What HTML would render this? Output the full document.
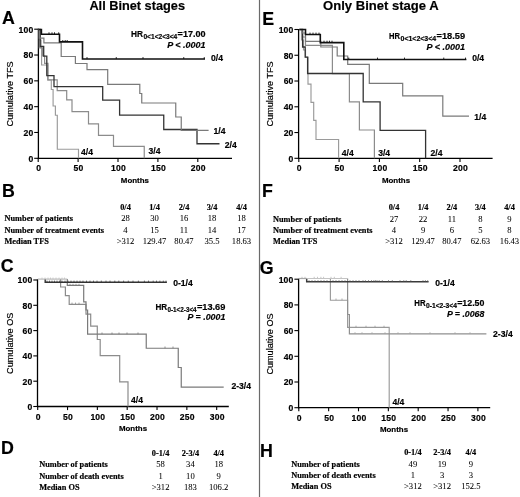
<!DOCTYPE html>
<html><head><meta charset="utf-8"><style>
html,body{margin:0;padding:0;background:#fff;}
svg{display:block;filter:blur(0.3px);}
text{stroke:#000;stroke-width:0.18px;}
text.v{stroke-width:0.05px;}
</style></head><body>
<svg width="520" height="497" viewBox="0 0 520 497">
<rect x="0" y="0" width="520" height="497" fill="#fff"/>
<line x1="259.5" y1="0" x2="259.5" y2="497" stroke="#6a6a6a" stroke-width="1.2"/>
<text x="89.4" y="10.4" font-size="13" font-weight="bold" font-style="normal" text-anchor="start" font-family='"Liberation Sans", sans-serif' fill="#000" textLength="95.6" lengthAdjust="spacingAndGlyphs">All Binet stages</text>
<text x="323.1" y="10.4" font-size="13" font-weight="bold" font-style="normal" text-anchor="start" font-family='"Liberation Sans", sans-serif' fill="#000" textLength="115.6" lengthAdjust="spacingAndGlyphs">Only Binet stage A</text>
<text x="2.1" y="23.6" font-size="17.8" font-weight="bold" font-style="normal" text-anchor="start" font-family='"Liberation Sans", sans-serif' fill="#000" >A</text>
<text x="2.06" y="196.55" font-size="17.8" font-weight="bold" font-style="normal" text-anchor="start" font-family='"Liberation Sans", sans-serif' fill="#000" >B</text>
<text x="0.67" y="272.35" font-size="17.8" font-weight="bold" font-style="normal" text-anchor="start" font-family='"Liberation Sans", sans-serif' fill="#000" >C</text>
<text x="0.91" y="454.2" font-size="17.8" font-weight="bold" font-style="normal" text-anchor="start" font-family='"Liberation Sans", sans-serif' fill="#000" >D</text>
<text x="262.16" y="25.2" font-size="17.8" font-weight="bold" font-style="normal" text-anchor="start" font-family='"Liberation Sans", sans-serif' fill="#000" >E</text>
<text x="261.9" y="197.2" font-size="17.8" font-weight="bold" font-style="normal" text-anchor="start" font-family='"Liberation Sans", sans-serif' fill="#000" >F</text>
<text x="259.8" y="274.05" font-size="17.8" font-weight="bold" font-style="normal" text-anchor="start" font-family='"Liberation Sans", sans-serif' fill="#000" >G</text>
<text x="259.9" y="456.55" font-size="17.8" font-weight="bold" font-style="normal" text-anchor="start" font-family='"Liberation Sans", sans-serif' fill="#000" >H</text>
<line x1="38.4" y1="28.7" x2="38.4" y2="158.9" stroke="#000" stroke-width="1.3"/>
<line x1="37.8" y1="158.3" x2="232" y2="158.3" stroke="#000" stroke-width="1.3"/>
<line x1="34.199999999999996" y1="158.3" x2="38.4" y2="158.3" stroke="#000" stroke-width="1.1"/>
<text x="33.4" y="161.60000000000002" font-size="8.6" font-weight="bold" font-style="normal" text-anchor="end" font-family='"Liberation Sans", sans-serif' fill="#000" letter-spacing="0.2">0</text>
<line x1="34.199999999999996" y1="132.48000000000002" x2="38.4" y2="132.48000000000002" stroke="#000" stroke-width="1.1"/>
<text x="33.4" y="135.78000000000003" font-size="8.6" font-weight="bold" font-style="normal" text-anchor="end" font-family='"Liberation Sans", sans-serif' fill="#000" letter-spacing="0.2">20</text>
<line x1="34.199999999999996" y1="106.66000000000001" x2="38.4" y2="106.66000000000001" stroke="#000" stroke-width="1.1"/>
<text x="33.4" y="109.96000000000001" font-size="8.6" font-weight="bold" font-style="normal" text-anchor="end" font-family='"Liberation Sans", sans-serif' fill="#000" letter-spacing="0.2">40</text>
<line x1="34.199999999999996" y1="80.84" x2="38.4" y2="80.84" stroke="#000" stroke-width="1.1"/>
<text x="33.4" y="84.14" font-size="8.6" font-weight="bold" font-style="normal" text-anchor="end" font-family='"Liberation Sans", sans-serif' fill="#000" letter-spacing="0.2">60</text>
<line x1="34.199999999999996" y1="55.02000000000001" x2="38.4" y2="55.02000000000001" stroke="#000" stroke-width="1.1"/>
<text x="33.4" y="58.32000000000001" font-size="8.6" font-weight="bold" font-style="normal" text-anchor="end" font-family='"Liberation Sans", sans-serif' fill="#000" letter-spacing="0.2">80</text>
<line x1="34.199999999999996" y1="29.200000000000017" x2="38.4" y2="29.200000000000017" stroke="#000" stroke-width="1.1"/>
<text x="33.4" y="32.500000000000014" font-size="8.6" font-weight="bold" font-style="normal" text-anchor="end" font-family='"Liberation Sans", sans-serif' fill="#000" letter-spacing="0.2">100</text>
<line x1="38.2" y1="158.3" x2="38.2" y2="161.9" stroke="#000" stroke-width="1.1"/>
<text x="38.7" y="171.4" font-size="8.6" font-weight="bold" font-style="normal" text-anchor="middle" font-family='"Liberation Sans", sans-serif' fill="#000" letter-spacing="0.2">0</text>
<line x1="78.1" y1="158.3" x2="78.1" y2="161.9" stroke="#000" stroke-width="1.1"/>
<text x="78.6" y="171.4" font-size="8.6" font-weight="bold" font-style="normal" text-anchor="middle" font-family='"Liberation Sans", sans-serif' fill="#000" letter-spacing="0.2">50</text>
<line x1="118.0" y1="158.3" x2="118.0" y2="161.9" stroke="#000" stroke-width="1.1"/>
<text x="118.5" y="171.4" font-size="8.6" font-weight="bold" font-style="normal" text-anchor="middle" font-family='"Liberation Sans", sans-serif' fill="#000" letter-spacing="0.2">100</text>
<line x1="157.89999999999998" y1="158.3" x2="157.89999999999998" y2="161.9" stroke="#000" stroke-width="1.1"/>
<text x="158.39999999999998" y="171.4" font-size="8.6" font-weight="bold" font-style="normal" text-anchor="middle" font-family='"Liberation Sans", sans-serif' fill="#000" letter-spacing="0.2">150</text>
<line x1="197.8" y1="158.3" x2="197.8" y2="161.9" stroke="#000" stroke-width="1.1"/>
<text x="198.3" y="171.4" font-size="8.6" font-weight="bold" font-style="normal" text-anchor="middle" font-family='"Liberation Sans", sans-serif' fill="#000" letter-spacing="0.2">200</text>
<text x="134.9" y="183.29999999999998" font-size="7.9" font-weight="bold" font-style="normal" text-anchor="middle" font-family='"Liberation Sans", sans-serif' fill="#000" >Months</text>
<text transform="translate(12.7,93.9) rotate(-90)" x="0" y="0" font-size="9.1" text-anchor="middle" font-family='"Liberation Sans", sans-serif' fill="#000" stroke="#000" stroke-width="0.2">Cumulative TFS</text>
<line x1="298.6" y1="29.0" x2="298.6" y2="158.9" stroke="#000" stroke-width="1.3"/>
<line x1="298.0" y1="158.3" x2="492.6" y2="158.3" stroke="#000" stroke-width="1.3"/>
<line x1="294.40000000000003" y1="158.3" x2="298.6" y2="158.3" stroke="#000" stroke-width="1.1"/>
<text x="293.6" y="161.60000000000002" font-size="8.6" font-weight="bold" font-style="normal" text-anchor="end" font-family='"Liberation Sans", sans-serif' fill="#000" letter-spacing="0.2">0</text>
<line x1="294.40000000000003" y1="132.54000000000002" x2="298.6" y2="132.54000000000002" stroke="#000" stroke-width="1.1"/>
<text x="293.6" y="135.84000000000003" font-size="8.6" font-weight="bold" font-style="normal" text-anchor="end" font-family='"Liberation Sans", sans-serif' fill="#000" letter-spacing="0.2">20</text>
<line x1="294.40000000000003" y1="106.78" x2="298.6" y2="106.78" stroke="#000" stroke-width="1.1"/>
<text x="293.6" y="110.08" font-size="8.6" font-weight="bold" font-style="normal" text-anchor="end" font-family='"Liberation Sans", sans-serif' fill="#000" letter-spacing="0.2">40</text>
<line x1="294.40000000000003" y1="81.02000000000001" x2="298.6" y2="81.02000000000001" stroke="#000" stroke-width="1.1"/>
<text x="293.6" y="84.32000000000001" font-size="8.6" font-weight="bold" font-style="normal" text-anchor="end" font-family='"Liberation Sans", sans-serif' fill="#000" letter-spacing="0.2">60</text>
<line x1="294.40000000000003" y1="55.260000000000005" x2="298.6" y2="55.260000000000005" stroke="#000" stroke-width="1.1"/>
<text x="293.6" y="58.56" font-size="8.6" font-weight="bold" font-style="normal" text-anchor="end" font-family='"Liberation Sans", sans-serif' fill="#000" letter-spacing="0.2">80</text>
<line x1="294.40000000000003" y1="29.5" x2="298.6" y2="29.5" stroke="#000" stroke-width="1.1"/>
<text x="293.6" y="32.8" font-size="8.6" font-weight="bold" font-style="normal" text-anchor="end" font-family='"Liberation Sans", sans-serif' fill="#000" letter-spacing="0.2">100</text>
<line x1="298.8" y1="158.3" x2="298.8" y2="161.9" stroke="#000" stroke-width="1.1"/>
<text x="299.3" y="171.4" font-size="8.6" font-weight="bold" font-style="normal" text-anchor="middle" font-family='"Liberation Sans", sans-serif' fill="#000" letter-spacing="0.2">0</text>
<line x1="339.1" y1="158.3" x2="339.1" y2="161.9" stroke="#000" stroke-width="1.1"/>
<text x="339.6" y="171.4" font-size="8.6" font-weight="bold" font-style="normal" text-anchor="middle" font-family='"Liberation Sans", sans-serif' fill="#000" letter-spacing="0.2">50</text>
<line x1="379.4" y1="158.3" x2="379.4" y2="161.9" stroke="#000" stroke-width="1.1"/>
<text x="379.9" y="171.4" font-size="8.6" font-weight="bold" font-style="normal" text-anchor="middle" font-family='"Liberation Sans", sans-serif' fill="#000" letter-spacing="0.2">100</text>
<line x1="419.7" y1="158.3" x2="419.7" y2="161.9" stroke="#000" stroke-width="1.1"/>
<text x="420.2" y="171.4" font-size="8.6" font-weight="bold" font-style="normal" text-anchor="middle" font-family='"Liberation Sans", sans-serif' fill="#000" letter-spacing="0.2">150</text>
<line x1="460.0" y1="158.3" x2="460.0" y2="161.9" stroke="#000" stroke-width="1.1"/>
<text x="460.5" y="171.4" font-size="8.6" font-weight="bold" font-style="normal" text-anchor="middle" font-family='"Liberation Sans", sans-serif' fill="#000" letter-spacing="0.2">200</text>
<text x="396.0" y="183.29999999999998" font-size="7.9" font-weight="bold" font-style="normal" text-anchor="middle" font-family='"Liberation Sans", sans-serif' fill="#000" >Months</text>
<text transform="translate(273.0,93.9) rotate(-90)" x="0" y="0" font-size="9.1" text-anchor="middle" font-family='"Liberation Sans", sans-serif' fill="#000" stroke="#000" stroke-width="0.2">Cumulative TFS</text>
<line x1="37.5" y1="279.3" x2="37.5" y2="407.1" stroke="#000" stroke-width="1.3"/>
<line x1="36.9" y1="406.5" x2="228.8" y2="406.5" stroke="#000" stroke-width="1.3"/>
<line x1="33.3" y1="406.5" x2="37.5" y2="406.5" stroke="#000" stroke-width="1.1"/>
<text x="32.5" y="409.8" font-size="8.6" font-weight="bold" font-style="normal" text-anchor="end" font-family='"Liberation Sans", sans-serif' fill="#000" letter-spacing="0.2">0</text>
<line x1="33.3" y1="381.2" x2="37.5" y2="381.2" stroke="#000" stroke-width="1.1"/>
<text x="32.5" y="384.5" font-size="8.6" font-weight="bold" font-style="normal" text-anchor="end" font-family='"Liberation Sans", sans-serif' fill="#000" letter-spacing="0.2">20</text>
<line x1="33.3" y1="355.9" x2="37.5" y2="355.9" stroke="#000" stroke-width="1.1"/>
<text x="32.5" y="359.2" font-size="8.6" font-weight="bold" font-style="normal" text-anchor="end" font-family='"Liberation Sans", sans-serif' fill="#000" letter-spacing="0.2">40</text>
<line x1="33.3" y1="330.6" x2="37.5" y2="330.6" stroke="#000" stroke-width="1.1"/>
<text x="32.5" y="333.90000000000003" font-size="8.6" font-weight="bold" font-style="normal" text-anchor="end" font-family='"Liberation Sans", sans-serif' fill="#000" letter-spacing="0.2">60</text>
<line x1="33.3" y1="305.3" x2="37.5" y2="305.3" stroke="#000" stroke-width="1.1"/>
<text x="32.5" y="308.6" font-size="8.6" font-weight="bold" font-style="normal" text-anchor="end" font-family='"Liberation Sans", sans-serif' fill="#000" letter-spacing="0.2">80</text>
<line x1="33.3" y1="280.0" x2="37.5" y2="280.0" stroke="#000" stroke-width="1.1"/>
<text x="32.5" y="283.3" font-size="8.6" font-weight="bold" font-style="normal" text-anchor="end" font-family='"Liberation Sans", sans-serif' fill="#000" letter-spacing="0.2">100</text>
<line x1="37.7" y1="406.5" x2="37.7" y2="410.1" stroke="#000" stroke-width="1.1"/>
<text x="38.2" y="419.9" font-size="8.6" font-weight="bold" font-style="normal" text-anchor="middle" font-family='"Liberation Sans", sans-serif' fill="#000" letter-spacing="0.2">0</text>
<line x1="67.53" y1="406.5" x2="67.53" y2="410.1" stroke="#000" stroke-width="1.1"/>
<text x="68.03" y="419.9" font-size="8.6" font-weight="bold" font-style="normal" text-anchor="middle" font-family='"Liberation Sans", sans-serif' fill="#000" letter-spacing="0.2">50</text>
<line x1="97.36" y1="406.5" x2="97.36" y2="410.1" stroke="#000" stroke-width="1.1"/>
<text x="97.86" y="419.9" font-size="8.6" font-weight="bold" font-style="normal" text-anchor="middle" font-family='"Liberation Sans", sans-serif' fill="#000" letter-spacing="0.2">100</text>
<line x1="127.19" y1="406.5" x2="127.19" y2="410.1" stroke="#000" stroke-width="1.1"/>
<text x="127.69" y="419.9" font-size="8.6" font-weight="bold" font-style="normal" text-anchor="middle" font-family='"Liberation Sans", sans-serif' fill="#000" letter-spacing="0.2">150</text>
<line x1="157.01999999999998" y1="406.5" x2="157.01999999999998" y2="410.1" stroke="#000" stroke-width="1.1"/>
<text x="157.51999999999998" y="419.9" font-size="8.6" font-weight="bold" font-style="normal" text-anchor="middle" font-family='"Liberation Sans", sans-serif' fill="#000" letter-spacing="0.2">200</text>
<line x1="186.84999999999997" y1="406.5" x2="186.84999999999997" y2="410.1" stroke="#000" stroke-width="1.1"/>
<text x="187.34999999999997" y="419.9" font-size="8.6" font-weight="bold" font-style="normal" text-anchor="middle" font-family='"Liberation Sans", sans-serif' fill="#000" letter-spacing="0.2">250</text>
<line x1="216.68" y1="406.5" x2="216.68" y2="410.1" stroke="#000" stroke-width="1.1"/>
<text x="217.18" y="419.9" font-size="8.6" font-weight="bold" font-style="normal" text-anchor="middle" font-family='"Liberation Sans", sans-serif' fill="#000" letter-spacing="0.2">300</text>
<text x="133.0" y="431.20000000000005" font-size="7.9" font-weight="bold" font-style="normal" text-anchor="middle" font-family='"Liberation Sans", sans-serif' fill="#000" >Months</text>
<text transform="translate(12.7,343.3) rotate(-90)" x="0" y="0" font-size="9.1" text-anchor="middle" font-family='"Liberation Sans", sans-serif' fill="#000" stroke="#000" stroke-width="0.2">Cumulative OS</text>
<line x1="298.6" y1="278.7" x2="298.6" y2="408.3" stroke="#000" stroke-width="1.3"/>
<line x1="298.0" y1="407.7" x2="490.2" y2="407.7" stroke="#000" stroke-width="1.3"/>
<line x1="294.40000000000003" y1="407.7" x2="298.6" y2="407.7" stroke="#000" stroke-width="1.1"/>
<text x="293.6" y="411.0" font-size="8.6" font-weight="bold" font-style="normal" text-anchor="end" font-family='"Liberation Sans", sans-serif' fill="#000" letter-spacing="0.2">0</text>
<line x1="294.40000000000003" y1="382.0" x2="298.6" y2="382.0" stroke="#000" stroke-width="1.1"/>
<text x="293.6" y="385.3" font-size="8.6" font-weight="bold" font-style="normal" text-anchor="end" font-family='"Liberation Sans", sans-serif' fill="#000" letter-spacing="0.2">20</text>
<line x1="294.40000000000003" y1="356.3" x2="298.6" y2="356.3" stroke="#000" stroke-width="1.1"/>
<text x="293.6" y="359.6" font-size="8.6" font-weight="bold" font-style="normal" text-anchor="end" font-family='"Liberation Sans", sans-serif' fill="#000" letter-spacing="0.2">40</text>
<line x1="294.40000000000003" y1="330.6" x2="298.6" y2="330.6" stroke="#000" stroke-width="1.1"/>
<text x="293.6" y="333.90000000000003" font-size="8.6" font-weight="bold" font-style="normal" text-anchor="end" font-family='"Liberation Sans", sans-serif' fill="#000" letter-spacing="0.2">60</text>
<line x1="294.40000000000003" y1="304.9" x2="298.6" y2="304.9" stroke="#000" stroke-width="1.1"/>
<text x="293.6" y="308.2" font-size="8.6" font-weight="bold" font-style="normal" text-anchor="end" font-family='"Liberation Sans", sans-serif' fill="#000" letter-spacing="0.2">80</text>
<line x1="294.40000000000003" y1="279.2" x2="298.6" y2="279.2" stroke="#000" stroke-width="1.1"/>
<text x="293.6" y="282.5" font-size="8.6" font-weight="bold" font-style="normal" text-anchor="end" font-family='"Liberation Sans", sans-serif' fill="#000" letter-spacing="0.2">100</text>
<line x1="298.8" y1="407.7" x2="298.8" y2="411.3" stroke="#000" stroke-width="1.1"/>
<text x="299.3" y="420.9" font-size="8.6" font-weight="bold" font-style="normal" text-anchor="middle" font-family='"Liberation Sans", sans-serif' fill="#000" letter-spacing="0.2">0</text>
<line x1="328.65000000000003" y1="407.7" x2="328.65000000000003" y2="411.3" stroke="#000" stroke-width="1.1"/>
<text x="329.15000000000003" y="420.9" font-size="8.6" font-weight="bold" font-style="normal" text-anchor="middle" font-family='"Liberation Sans", sans-serif' fill="#000" letter-spacing="0.2">50</text>
<line x1="358.5" y1="407.7" x2="358.5" y2="411.3" stroke="#000" stroke-width="1.1"/>
<text x="359.0" y="420.9" font-size="8.6" font-weight="bold" font-style="normal" text-anchor="middle" font-family='"Liberation Sans", sans-serif' fill="#000" letter-spacing="0.2">100</text>
<line x1="388.35" y1="407.7" x2="388.35" y2="411.3" stroke="#000" stroke-width="1.1"/>
<text x="388.85" y="420.9" font-size="8.6" font-weight="bold" font-style="normal" text-anchor="middle" font-family='"Liberation Sans", sans-serif' fill="#000" letter-spacing="0.2">150</text>
<line x1="418.20000000000005" y1="407.7" x2="418.20000000000005" y2="411.3" stroke="#000" stroke-width="1.1"/>
<text x="418.70000000000005" y="420.9" font-size="8.6" font-weight="bold" font-style="normal" text-anchor="middle" font-family='"Liberation Sans", sans-serif' fill="#000" letter-spacing="0.2">200</text>
<line x1="448.05" y1="407.7" x2="448.05" y2="411.3" stroke="#000" stroke-width="1.1"/>
<text x="448.55" y="420.9" font-size="8.6" font-weight="bold" font-style="normal" text-anchor="middle" font-family='"Liberation Sans", sans-serif' fill="#000" letter-spacing="0.2">250</text>
<line x1="477.90000000000003" y1="407.7" x2="477.90000000000003" y2="411.3" stroke="#000" stroke-width="1.1"/>
<text x="478.40000000000003" y="420.9" font-size="8.6" font-weight="bold" font-style="normal" text-anchor="middle" font-family='"Liberation Sans", sans-serif' fill="#000" letter-spacing="0.2">300</text>
<text x="394.0" y="432.1" font-size="7.9" font-weight="bold" font-style="normal" text-anchor="middle" font-family='"Liberation Sans", sans-serif' fill="#000" >Months</text>
<text transform="translate(273.0,344.0) rotate(-90)" x="0" y="0" font-size="9.1" text-anchor="middle" font-family='"Liberation Sans", sans-serif' fill="#000" stroke="#000" stroke-width="0.2">Cumulative OS</text>
<polyline points="38.4,29.5 39.3,29.5 39.3,48 41.6,48 41.6,65 47.7,65 47.7,80 51.3,80 51.3,89.5 53.1,89.5 53.1,106 55.4,106 55.4,115.2 57.3,115.2 57.3,149.2 78.5,149.2 78.5,158.3" fill="none" stroke="#9a9a9a" stroke-width="1.15" stroke-linejoin="miter" stroke-linecap="butt"/>
<polyline points="38.4,29.5 39.7,29.5 39.7,40 41.0,40 41.0,48 42.4,48 42.4,56 44.6,56 44.6,63.4 48.0,63.4 48.0,79.9 57.2,79.9 57.2,90.7 66.7,90.7 66.7,99.9 72.0,99.9 72.0,111.6 88.5,111.6 88.5,123.8 98.5,123.8 98.5,135.4 113.5,135.4 113.5,146.3 144.25,146.3 144.25,158.3" fill="none" stroke="#8c8c8c" stroke-width="1.2" stroke-linejoin="miter" stroke-linecap="butt"/>
<polyline points="38.4,29.5 40.2,29.5 40.2,46.5 43.7,46.5 43.7,56.2 46.8,56.2 46.8,75.6 54.0,75.6 54.0,86.6 102.7,86.6 102.7,100.2 119.6,100.2 119.6,115.2 163.75,115.2 163.75,129.5 197,129.5 197,143.75 219.5,143.75" fill="none" stroke="#333" stroke-width="1.3" stroke-linejoin="miter" stroke-linecap="butt"/>
<polyline points="38.4,29.5 39.3,29.5 39.3,38.1 43.9,38.1 43.9,42.8 61.2,42.8 61.2,56.5 75.4,56.5 75.4,63.5 87,63.5 87,69.6 107.7,69.6 107.7,84.3 139.8,84.3 139.8,93.5 141.75,93.5 141.75,103 175.75,103 175.75,117 181.25,117 181.25,130.4 208.6,130.4" fill="none" stroke="#7a7a7a" stroke-width="1.2" stroke-linejoin="miter" stroke-linecap="butt"/>
<polyline points="38.4,29.5 41.4,29.5 41.4,34.2 59.5,34.2 59.5,41.9 82.5,41.9 82.5,59.0 205,59.0" fill="none" stroke="#111" stroke-width="1.6" stroke-linejoin="miter" stroke-linecap="butt"/>
<line x1="49" y1="34.2" x2="49" y2="32.3" stroke="#111" stroke-width="0.9"/>
<line x1="52" y1="34.2" x2="52" y2="32.3" stroke="#111" stroke-width="0.9"/>
<line x1="54.5" y1="34.2" x2="54.5" y2="32.3" stroke="#111" stroke-width="0.9"/>
<line x1="58.7" y1="34.2" x2="58.7" y2="32.3" stroke="#111" stroke-width="0.9"/>
<line x1="62.8" y1="41.9" x2="62.8" y2="40" stroke="#111" stroke-width="0.9"/>
<line x1="65.2" y1="41.9" x2="65.2" y2="40" stroke="#111" stroke-width="0.9"/>
<line x1="67.2" y1="41.9" x2="67.2" y2="40" stroke="#111" stroke-width="0.9"/>
<line x1="87" y1="59.0" x2="87" y2="57.1" stroke="#111" stroke-width="0.9"/>
<line x1="116.25" y1="59.0" x2="116.25" y2="57.1" stroke="#111" stroke-width="0.9"/>
<line x1="143" y1="59.0" x2="143" y2="57.1" stroke="#111" stroke-width="0.9"/>
<line x1="183.75" y1="59.0" x2="183.75" y2="57.1" stroke="#111" stroke-width="0.9"/>
<line x1="204.25" y1="59.0" x2="204.25" y2="57.1" stroke="#111" stroke-width="0.9"/>
<text x="211.0" y="61.1" font-size="8.6" font-weight="bold" font-style="normal" text-anchor="start" font-family='"Liberation Sans", sans-serif' fill="#000" >0/4</text>
<text x="213.5" y="134.0" font-size="8.6" font-weight="bold" font-style="normal" text-anchor="start" font-family='"Liberation Sans", sans-serif' fill="#000" >1/4</text>
<text x="224.8" y="147.5" font-size="8.6" font-weight="bold" font-style="normal" text-anchor="start" font-family='"Liberation Sans", sans-serif' fill="#000" >2/4</text>
<text x="148.6" y="154.1" font-size="8.6" font-weight="bold" font-style="normal" text-anchor="start" font-family='"Liberation Sans", sans-serif' fill="#000" >3/4</text>
<text x="81.0" y="155.0" font-size="8.6" font-weight="bold" font-style="normal" text-anchor="start" font-family='"Liberation Sans", sans-serif' fill="#000" >4/4</text>
<text x="131.0" y="37.1" font-family='"Liberation Sans", sans-serif' font-weight="bold" font-size="9.0" fill="#000" textLength="12.00" lengthAdjust="spacingAndGlyphs">HR</text>
<text x="143.4" y="38.9" font-family='"Liberation Sans", sans-serif' font-weight="bold" font-size="6.4" fill="#000" textLength="33.90" lengthAdjust="spacingAndGlyphs">0&lt;1&lt;2&lt;3&lt;4</text>
<text x="177.6" y="37.1" font-family='"Liberation Sans", sans-serif' font-weight="bold" font-size="9.0" fill="#000" textLength="28.00" lengthAdjust="spacingAndGlyphs">=17.00</text>
<text x="167.2" y="48.4" font-family='"Liberation Sans", sans-serif' font-weight="bold" font-style="italic" font-size="9.0" fill="#000" textLength="38.40" lengthAdjust="spacingAndGlyphs">P &lt; .0001</text>
<text x="389.1" y="39.3" font-family='"Liberation Sans", sans-serif' font-weight="bold" font-size="9.0" fill="#000" textLength="11.00" lengthAdjust="spacingAndGlyphs">HR</text>
<text x="400.5" y="41.099999999999994" font-family='"Liberation Sans", sans-serif' font-weight="bold" font-size="6.4" fill="#000" textLength="35.70" lengthAdjust="spacingAndGlyphs">0&lt;1&lt;2&lt;3&lt;4</text>
<text x="436.5" y="39.3" font-family='"Liberation Sans", sans-serif' font-weight="bold" font-size="9.0" fill="#000" textLength="28.60" lengthAdjust="spacingAndGlyphs">=18.59</text>
<text x="426.5" y="49.9" font-family='"Liberation Sans", sans-serif' font-weight="bold" font-style="italic" font-size="9.0" fill="#000" textLength="38.60" lengthAdjust="spacingAndGlyphs">P &lt; .0001</text>
<text x="155.4" y="310.0" font-family='"Liberation Sans", sans-serif' font-weight="bold" font-size="9.0" fill="#000" textLength="11.70" lengthAdjust="spacingAndGlyphs">HR</text>
<text x="167.5" y="311.8" font-family='"Liberation Sans", sans-serif' font-weight="bold" font-size="6.4" fill="#000" textLength="29.10" lengthAdjust="spacingAndGlyphs">0-1&lt;2-3&lt;4</text>
<text x="196.9" y="310.0" font-family='"Liberation Sans", sans-serif' font-weight="bold" font-size="9.0" fill="#000" textLength="28.50" lengthAdjust="spacingAndGlyphs">=13.69</text>
<text x="187.5" y="319.5" font-family='"Liberation Sans", sans-serif' font-weight="bold" font-style="italic" font-size="9.0" fill="#000" textLength="37.90" lengthAdjust="spacingAndGlyphs">P = .0001</text>
<text x="414.3" y="306.3" font-family='"Liberation Sans", sans-serif' font-weight="bold" font-size="9.0" fill="#000" textLength="11.30" lengthAdjust="spacingAndGlyphs">HR</text>
<text x="426.0" y="308.1" font-family='"Liberation Sans", sans-serif' font-weight="bold" font-size="6.4" fill="#000" textLength="30.90" lengthAdjust="spacingAndGlyphs">0-1&lt;2-3&lt;4</text>
<text x="457.2" y="306.3" font-family='"Liberation Sans", sans-serif' font-weight="bold" font-size="9.0" fill="#000" textLength="27.20" lengthAdjust="spacingAndGlyphs">=12.50</text>
<text x="446.9" y="316.6" font-family='"Liberation Sans", sans-serif' font-weight="bold" font-style="italic" font-size="9.0" fill="#000" textLength="37.50" lengthAdjust="spacingAndGlyphs">P = .0068</text>
<polyline points="299.3,29.5 301.5,29.5 301.5,40 303.5,40 303.5,50 305.5,50 305.5,57.2 308,57.2 308,84.1 311,84.1 311,102.3 313.7,102.3 313.7,120.4 316,120.4 316,139.5 338.6,139.5 338.6,158.3" fill="none" stroke="#9a9a9a" stroke-width="1.15" stroke-linejoin="miter" stroke-linecap="butt"/>
<polyline points="299.3,29.5 302.5,29.5 302.5,37 305.5,37 305.5,45.3 332.4,45.3 332.4,73.7 349.4,73.7 349.4,101.9 359.4,101.9 359.4,130 374.4,130 374.4,158.3" fill="none" stroke="#8c8c8c" stroke-width="1.2" stroke-linejoin="miter" stroke-linecap="butt"/>
<polyline points="299.3,29.5 302.6,29.5 302.6,47 305.2,47 305.2,57.2 307.6,57.2 307.6,73.5 363.2,73.5 363.2,101.9 380.1,101.9 380.1,130.4 425.6,130.4 425.6,158.3" fill="none" stroke="#333" stroke-width="1.3" stroke-linejoin="miter" stroke-linecap="butt"/>
<polyline points="299.3,29.5 302,29.5 302,33 305.5,33 305.5,41.3 320.8,41.3 320.8,47.0 337.2,47.0 337.2,56.0 347.7,56.0 347.7,64.3 369.3,64.3 369.3,83.4 402.7,83.4 402.7,95.9 442.8,95.9 442.8,116.1 469,116.1" fill="none" stroke="#7a7a7a" stroke-width="1.2" stroke-linejoin="miter" stroke-linecap="butt"/>
<polyline points="299.3,29.5 305.5,29.5 305.5,34.5 320.3,34.5 320.3,42.6 343.8,42.6 343.8,59.5 466.4,59.5" fill="none" stroke="#111" stroke-width="1.6" stroke-linejoin="miter" stroke-linecap="butt"/>
<line x1="310" y1="34.5" x2="310" y2="32.6" stroke="#111" stroke-width="0.9"/>
<line x1="313" y1="34.5" x2="313" y2="32.6" stroke="#111" stroke-width="0.9"/>
<line x1="316" y1="34.5" x2="316" y2="32.6" stroke="#111" stroke-width="0.9"/>
<line x1="319" y1="34.5" x2="319" y2="32.6" stroke="#111" stroke-width="0.9"/>
<line x1="324" y1="42.6" x2="324" y2="40.7" stroke="#111" stroke-width="0.9"/>
<line x1="327" y1="42.6" x2="327" y2="40.7" stroke="#111" stroke-width="0.9"/>
<line x1="329.5" y1="42.6" x2="329.5" y2="40.7" stroke="#111" stroke-width="0.9"/>
<line x1="332" y1="42.6" x2="332" y2="40.7" stroke="#111" stroke-width="0.9"/>
<line x1="348.75" y1="59.5" x2="348.75" y2="57.6" stroke="#111" stroke-width="0.9"/>
<line x1="377.5" y1="59.5" x2="377.5" y2="57.6" stroke="#111" stroke-width="0.9"/>
<line x1="404.5" y1="59.5" x2="404.5" y2="57.6" stroke="#111" stroke-width="0.9"/>
<line x1="443.75" y1="59.5" x2="443.75" y2="57.6" stroke="#111" stroke-width="0.9"/>
<line x1="465.5" y1="59.5" x2="465.5" y2="57.6" stroke="#111" stroke-width="0.9"/>
<text x="472.2" y="61.3" font-size="8.6" font-weight="bold" font-style="normal" text-anchor="start" font-family='"Liberation Sans", sans-serif' fill="#000" >0/4</text>
<text x="474.3" y="119.6" font-size="8.6" font-weight="bold" font-style="normal" text-anchor="start" font-family='"Liberation Sans", sans-serif' fill="#000" >1/4</text>
<text x="430.6" y="156.3" font-size="8.6" font-weight="bold" font-style="normal" text-anchor="start" font-family='"Liberation Sans", sans-serif' fill="#000" >2/4</text>
<text x="378.2" y="155.6" font-size="8.6" font-weight="bold" font-style="normal" text-anchor="start" font-family='"Liberation Sans", sans-serif' fill="#000" >3/4</text>
<text x="341.8" y="155.6" font-size="8.6" font-weight="bold" font-style="normal" text-anchor="start" font-family='"Liberation Sans", sans-serif' fill="#000" >4/4</text>
<polyline points="60.6,279.1 60.6,279.1 60.6,287 65.4,287 65.4,295.6 69.2,295.6 69.2,304.3 86,304.3 86,314.2 90.7,314.2 90.7,326.2 97.3,326.2 97.3,339.5 100.2,339.5 100.2,355.7 119.7,355.7 119.7,381.8 128,381.8 128,406.5" fill="none" stroke="#8c8c8c" stroke-width="1.2" stroke-linejoin="miter" stroke-linecap="butt"/>
<line x1="72" y1="304.3" x2="72" y2="302.6" stroke="#8c8c8c" stroke-width="0.8"/>
<line x1="75.5" y1="304.3" x2="75.5" y2="302.6" stroke="#8c8c8c" stroke-width="0.8"/>
<line x1="79" y1="304.3" x2="79" y2="302.6" stroke="#8c8c8c" stroke-width="0.8"/>
<polyline points="67.3,279.1 67.3,279.1 67.3,285.3 83.7,285.3 83.7,301.9 86,301.9 86,310 87.6,310 87.6,334.2 146.25,334.2 146.25,348.25 178.25,348.25 178.25,367.5 181.25,367.5 181.25,387.2 223.7,387.2" fill="none" stroke="#7a7a7a" stroke-width="1.2" stroke-linejoin="miter" stroke-linecap="butt"/>
<line x1="70" y1="285.3" x2="70" y2="283.8" stroke="#7a7a7a" stroke-width="0.7"/>
<line x1="73" y1="285.3" x2="73" y2="283.8" stroke="#7a7a7a" stroke-width="0.7"/>
<line x1="76" y1="285.3" x2="76" y2="283.8" stroke="#7a7a7a" stroke-width="0.7"/>
<line x1="79" y1="285.3" x2="79" y2="283.8" stroke="#7a7a7a" stroke-width="0.7"/>
<line x1="102" y1="334.2" x2="102" y2="332.5" stroke="#7a7a7a" stroke-width="0.8"/>
<line x1="112" y1="334.2" x2="112" y2="332.5" stroke="#7a7a7a" stroke-width="0.8"/>
<line x1="119" y1="334.2" x2="119" y2="332.5" stroke="#7a7a7a" stroke-width="0.8"/>
<line x1="127" y1="334.2" x2="127" y2="332.5" stroke="#7a7a7a" stroke-width="0.8"/>
<line x1="138" y1="334.2" x2="138" y2="332.5" stroke="#7a7a7a" stroke-width="0.8"/>
<line x1="165" y1="348.25" x2="165" y2="346.5" stroke="#7a7a7a" stroke-width="0.8"/>
<line x1="173" y1="348.25" x2="173" y2="346.5" stroke="#7a7a7a" stroke-width="0.8"/>
<polyline points="45.2,279.1 45.2,279.1 45.2,282.2 166.9,282.2" fill="none" stroke="#333" stroke-width="1.4" stroke-linejoin="miter" stroke-linecap="butt"/>
<line x1="47" y1="282.2" x2="47" y2="280.6" stroke="#333" stroke-width="0.7"/>
<line x1="49.5" y1="282.2" x2="49.5" y2="280.6" stroke="#333" stroke-width="0.7"/>
<line x1="52" y1="282.2" x2="52" y2="280.6" stroke="#333" stroke-width="0.7"/>
<line x1="54.5" y1="282.2" x2="54.5" y2="280.6" stroke="#333" stroke-width="0.7"/>
<line x1="57" y1="282.2" x2="57" y2="280.6" stroke="#333" stroke-width="0.7"/>
<line x1="59.5" y1="282.2" x2="59.5" y2="280.6" stroke="#333" stroke-width="0.7"/>
<line x1="62" y1="282.2" x2="62" y2="280.6" stroke="#333" stroke-width="0.7"/>
<line x1="65" y1="282.2" x2="65" y2="280.6" stroke="#333" stroke-width="0.7"/>
<line x1="68" y1="282.2" x2="68" y2="280.6" stroke="#333" stroke-width="0.7"/>
<line x1="71" y1="282.2" x2="71" y2="280.6" stroke="#333" stroke-width="0.7"/>
<line x1="74" y1="282.2" x2="74" y2="280.6" stroke="#333" stroke-width="0.7"/>
<line x1="77" y1="282.2" x2="77" y2="280.6" stroke="#333" stroke-width="0.7"/>
<line x1="80" y1="282.2" x2="80" y2="280.6" stroke="#333" stroke-width="0.7"/>
<line x1="83" y1="282.2" x2="83" y2="280.6" stroke="#333" stroke-width="0.7"/>
<line x1="86.5" y1="282.2" x2="86.5" y2="280.6" stroke="#333" stroke-width="0.7"/>
<line x1="90" y1="282.2" x2="90" y2="280.6" stroke="#333" stroke-width="0.7"/>
<line x1="93.5" y1="282.2" x2="93.5" y2="280.6" stroke="#333" stroke-width="0.7"/>
<line x1="97" y1="282.2" x2="97" y2="280.6" stroke="#333" stroke-width="0.7"/>
<line x1="101.3" y1="282.2" x2="101.3" y2="280.6" stroke="#333" stroke-width="0.7"/>
<line x1="106" y1="282.2" x2="106" y2="280.6" stroke="#333" stroke-width="0.7"/>
<line x1="110" y1="282.2" x2="110" y2="280.6" stroke="#333" stroke-width="0.7"/>
<line x1="114.8" y1="282.2" x2="114.8" y2="280.6" stroke="#333" stroke-width="0.7"/>
<line x1="118.8" y1="282.2" x2="118.8" y2="280.6" stroke="#333" stroke-width="0.7"/>
<line x1="123.6" y1="282.2" x2="123.6" y2="280.6" stroke="#333" stroke-width="0.7"/>
<line x1="128.3" y1="282.2" x2="128.3" y2="280.6" stroke="#333" stroke-width="0.7"/>
<line x1="133" y1="282.2" x2="133" y2="280.6" stroke="#333" stroke-width="0.7"/>
<line x1="138.4" y1="282.2" x2="138.4" y2="280.6" stroke="#333" stroke-width="0.7"/>
<line x1="144.4" y1="282.2" x2="144.4" y2="280.6" stroke="#333" stroke-width="0.7"/>
<line x1="148.5" y1="282.2" x2="148.5" y2="280.6" stroke="#333" stroke-width="0.7"/>
<line x1="153.2" y1="282.2" x2="153.2" y2="280.6" stroke="#333" stroke-width="0.7"/>
<line x1="156.5" y1="282.2" x2="156.5" y2="280.6" stroke="#333" stroke-width="0.7"/>
<line x1="159.9" y1="282.2" x2="159.9" y2="280.6" stroke="#333" stroke-width="0.7"/>
<line x1="163.3" y1="282.2" x2="163.3" y2="280.6" stroke="#333" stroke-width="0.7"/>
<line x1="166" y1="282.2" x2="166" y2="280.6" stroke="#333" stroke-width="0.7"/>
<polyline points="37.8,279.1 67.3,279.1" fill="none" stroke="#b4b4b4" stroke-width="1.1" stroke-linejoin="miter" stroke-linecap="butt"/>
<line x1="42" y1="279.1" x2="42" y2="277.5" stroke="#bdbdbd" stroke-width="0.7"/>
<line x1="45" y1="279.1" x2="45" y2="277.5" stroke="#bdbdbd" stroke-width="0.7"/>
<line x1="48" y1="279.1" x2="48" y2="277.5" stroke="#bdbdbd" stroke-width="0.7"/>
<line x1="50.5" y1="279.1" x2="50.5" y2="277.5" stroke="#bdbdbd" stroke-width="0.7"/>
<line x1="53" y1="279.1" x2="53" y2="277.5" stroke="#bdbdbd" stroke-width="0.7"/>
<line x1="56" y1="279.1" x2="56" y2="277.5" stroke="#bdbdbd" stroke-width="0.7"/>
<line x1="59" y1="279.1" x2="59" y2="277.5" stroke="#bdbdbd" stroke-width="0.7"/>
<line x1="62" y1="279.1" x2="62" y2="277.5" stroke="#bdbdbd" stroke-width="0.7"/>
<line x1="64.5" y1="279.1" x2="64.5" y2="277.5" stroke="#bdbdbd" stroke-width="0.7"/>
<text x="173.2" y="285.8" font-size="8.6" font-weight="bold" font-style="normal" text-anchor="start" font-family='"Liberation Sans", sans-serif' fill="#000" >0-1/4</text>
<text x="231.4" y="388.6" font-size="8.6" font-weight="bold" font-style="normal" text-anchor="start" font-family='"Liberation Sans", sans-serif' fill="#000" >2-3/4</text>
<text x="131.0" y="403.1" font-size="8.6" font-weight="bold" font-style="normal" text-anchor="start" font-family='"Liberation Sans", sans-serif' fill="#000" >4/4</text>
<line x1="302" y1="278.5" x2="302" y2="276.8" stroke="#b8b8b8" stroke-width="0.8"/>
<line x1="305" y1="278.5" x2="305" y2="276.8" stroke="#b8b8b8" stroke-width="0.8"/>
<line x1="314.2" y1="278.5" x2="314.2" y2="276.8" stroke="#b8b8b8" stroke-width="0.8"/>
<line x1="317.5" y1="278.5" x2="317.5" y2="276.8" stroke="#b8b8b8" stroke-width="0.8"/>
<line x1="320.9" y1="278.5" x2="320.9" y2="276.8" stroke="#b8b8b8" stroke-width="0.8"/>
<line x1="323.6" y1="278.5" x2="323.6" y2="276.8" stroke="#b8b8b8" stroke-width="0.8"/>
<line x1="331" y1="278.5" x2="331" y2="276.8" stroke="#b8b8b8" stroke-width="0.8"/>
<line x1="334.3" y1="278.5" x2="334.3" y2="276.8" stroke="#b8b8b8" stroke-width="0.8"/>
<line x1="341.1" y1="278.5" x2="341.1" y2="276.8" stroke="#b8b8b8" stroke-width="0.8"/>
<polyline points="330.4,278.5 330.4,278.5 330.4,300.2 347.6,300.2 347.6,327.4 389.2,327.4 389.2,407.7" fill="none" stroke="#9a9a9a" stroke-width="1.15" stroke-linejoin="miter" stroke-linecap="butt"/>
<line x1="356" y1="327.4" x2="356" y2="325.7" stroke="#9a9a9a" stroke-width="0.8"/>
<line x1="366" y1="327.4" x2="366" y2="325.7" stroke="#9a9a9a" stroke-width="0.8"/>
<line x1="375" y1="327.4" x2="375" y2="325.7" stroke="#9a9a9a" stroke-width="0.8"/>
<line x1="384" y1="327.4" x2="384" y2="325.7" stroke="#9a9a9a" stroke-width="0.8"/>
<line x1="336" y1="300.2" x2="336" y2="298.5" stroke="#9a9a9a" stroke-width="0.8"/>
<line x1="342" y1="300.2" x2="342" y2="298.5" stroke="#9a9a9a" stroke-width="0.8"/>
<polyline points="347.6,278.5 347.6,278.5 347.6,314.5 349.4,314.5 349.4,333.9 486.4,333.9" fill="none" stroke="#909090" stroke-width="1.2" stroke-linejoin="miter" stroke-linecap="butt"/>
<line x1="355" y1="333.9" x2="355" y2="332.2" stroke="#a0a0a0" stroke-width="0.7"/>
<line x1="362" y1="333.9" x2="362" y2="332.2" stroke="#a0a0a0" stroke-width="0.7"/>
<line x1="372" y1="333.9" x2="372" y2="332.2" stroke="#a0a0a0" stroke-width="0.7"/>
<line x1="385" y1="333.9" x2="385" y2="332.2" stroke="#a0a0a0" stroke-width="0.7"/>
<line x1="398" y1="333.9" x2="398" y2="332.2" stroke="#a0a0a0" stroke-width="0.7"/>
<line x1="410" y1="333.9" x2="410" y2="332.2" stroke="#a0a0a0" stroke-width="0.7"/>
<line x1="430" y1="333.9" x2="430" y2="332.2" stroke="#a0a0a0" stroke-width="0.7"/>
<line x1="455" y1="333.9" x2="455" y2="332.2" stroke="#a0a0a0" stroke-width="0.7"/>
<line x1="470" y1="333.9" x2="470" y2="332.2" stroke="#a0a0a0" stroke-width="0.7"/>
<polyline points="306.7,278.5 306.7,278.5 306.7,281.8 428.6,281.8" fill="none" stroke="#3a3a3a" stroke-width="1.5" stroke-linejoin="miter" stroke-linecap="butt"/>
<line x1="309" y1="281.8" x2="309" y2="280.2" stroke="#555" stroke-width="0.7"/>
<line x1="312" y1="281.8" x2="312" y2="280.2" stroke="#555" stroke-width="0.7"/>
<line x1="315" y1="281.8" x2="315" y2="280.2" stroke="#555" stroke-width="0.7"/>
<line x1="318" y1="281.8" x2="318" y2="280.2" stroke="#555" stroke-width="0.7"/>
<line x1="321" y1="281.8" x2="321" y2="280.2" stroke="#555" stroke-width="0.7"/>
<line x1="324" y1="281.8" x2="324" y2="280.2" stroke="#555" stroke-width="0.7"/>
<line x1="327" y1="281.8" x2="327" y2="280.2" stroke="#555" stroke-width="0.7"/>
<line x1="333" y1="281.8" x2="333" y2="280.2" stroke="#555" stroke-width="0.7"/>
<line x1="336" y1="281.8" x2="336" y2="280.2" stroke="#555" stroke-width="0.7"/>
<line x1="339" y1="281.8" x2="339" y2="280.2" stroke="#555" stroke-width="0.7"/>
<line x1="342" y1="281.8" x2="342" y2="280.2" stroke="#555" stroke-width="0.7"/>
<line x1="345" y1="281.8" x2="345" y2="280.2" stroke="#555" stroke-width="0.7"/>
<line x1="350" y1="281.8" x2="350" y2="280.2" stroke="#555" stroke-width="0.7"/>
<line x1="353" y1="281.8" x2="353" y2="280.2" stroke="#555" stroke-width="0.7"/>
<line x1="356" y1="281.8" x2="356" y2="280.2" stroke="#555" stroke-width="0.7"/>
<line x1="359" y1="281.8" x2="359" y2="280.2" stroke="#555" stroke-width="0.7"/>
<line x1="363" y1="281.8" x2="363" y2="280.2" stroke="#555" stroke-width="0.7"/>
<line x1="365.4" y1="281.8" x2="365.4" y2="280.2" stroke="#555" stroke-width="0.7"/>
<line x1="368.5" y1="281.8" x2="368.5" y2="280.2" stroke="#555" stroke-width="0.7"/>
<line x1="371.5" y1="281.8" x2="371.5" y2="280.2" stroke="#555" stroke-width="0.7"/>
<line x1="373.8" y1="281.8" x2="373.8" y2="280.2" stroke="#555" stroke-width="0.7"/>
<line x1="375.4" y1="281.8" x2="375.4" y2="280.2" stroke="#555" stroke-width="0.7"/>
<line x1="377" y1="281.8" x2="377" y2="280.2" stroke="#555" stroke-width="0.7"/>
<line x1="379.2" y1="281.8" x2="379.2" y2="280.2" stroke="#555" stroke-width="0.7"/>
<line x1="382.3" y1="281.8" x2="382.3" y2="280.2" stroke="#555" stroke-width="0.7"/>
<line x1="388.5" y1="281.8" x2="388.5" y2="280.2" stroke="#555" stroke-width="0.7"/>
<line x1="392.3" y1="281.8" x2="392.3" y2="280.2" stroke="#555" stroke-width="0.7"/>
<line x1="400" y1="281.8" x2="400" y2="280.2" stroke="#555" stroke-width="0.7"/>
<line x1="403.8" y1="281.8" x2="403.8" y2="280.2" stroke="#555" stroke-width="0.7"/>
<line x1="406.2" y1="281.8" x2="406.2" y2="280.2" stroke="#555" stroke-width="0.7"/>
<line x1="410.8" y1="281.8" x2="410.8" y2="280.2" stroke="#555" stroke-width="0.7"/>
<line x1="423" y1="281.8" x2="423" y2="280.2" stroke="#555" stroke-width="0.7"/>
<line x1="425.4" y1="281.8" x2="425.4" y2="280.2" stroke="#555" stroke-width="0.7"/>
<line x1="427.7" y1="281.8" x2="427.7" y2="280.2" stroke="#555" stroke-width="0.7"/>
<polyline points="298.6,278.5 307,278.5" fill="none" stroke="#a8a8a8" stroke-width="1.2" stroke-linejoin="miter" stroke-linecap="butt"/>
<polyline points="307,278.5 347.8,278.5" fill="none" stroke="#c4c4c4" stroke-width="1.0" stroke-linejoin="miter" stroke-linecap="butt"/>
<text x="435.2" y="285.8" font-size="8.6" font-weight="bold" font-style="normal" text-anchor="start" font-family='"Liberation Sans", sans-serif' fill="#000" >0-1/4</text>
<text x="493.1" y="337.0" font-size="8.6" font-weight="bold" font-style="normal" text-anchor="start" font-family='"Liberation Sans", sans-serif' fill="#000" >2-3/4</text>
<text x="392.4" y="404.6" font-size="8.6" font-weight="bold" font-style="normal" text-anchor="start" font-family='"Liberation Sans", sans-serif' fill="#000" >4/4</text>
<text x="4.5" y="221.2" font-size="8.3" font-weight="bold" font-style="normal" text-anchor="start" font-family='"Liberation Serif", serif' fill="#000" >Number of patients</text>
<text x="4.5" y="232.6" font-size="8.3" font-weight="bold" font-style="normal" text-anchor="start" font-family='"Liberation Serif", serif' fill="#000" >Number of treatment events</text>
<text x="4.5" y="244.0" font-size="8.3" font-weight="bold" font-style="normal" text-anchor="start" font-family='"Liberation Serif", serif' fill="#000" >Median TFS</text>
<text x="125.5" y="210.0" font-size="8.3" font-weight="bold" font-style="normal" text-anchor="middle" font-family='"Liberation Serif", serif' fill="#000" >0/4</text>
<text x="154.5" y="210.0" font-size="8.3" font-weight="bold" font-style="normal" text-anchor="middle" font-family='"Liberation Serif", serif' fill="#000" >1/4</text>
<text x="184.0" y="210.0" font-size="8.3" font-weight="bold" font-style="normal" text-anchor="middle" font-family='"Liberation Serif", serif' fill="#000" >2/4</text>
<text x="212.0" y="210.0" font-size="8.3" font-weight="bold" font-style="normal" text-anchor="middle" font-family='"Liberation Serif", serif' fill="#000" >3/4</text>
<text x="241.5" y="210.0" font-size="8.3" font-weight="bold" font-style="normal" text-anchor="middle" font-family='"Liberation Serif", serif' fill="#000" >4/4</text>
<text x="125.5" y="221.2" font-size="8.6" font-weight="normal" font-style="normal" text-anchor="middle" font-family='"Liberation Serif", serif' fill="#000" class="v">28</text>
<text x="154.5" y="221.2" font-size="8.6" font-weight="normal" font-style="normal" text-anchor="middle" font-family='"Liberation Serif", serif' fill="#000" class="v">30</text>
<text x="184.0" y="221.2" font-size="8.6" font-weight="normal" font-style="normal" text-anchor="middle" font-family='"Liberation Serif", serif' fill="#000" class="v">16</text>
<text x="212.0" y="221.2" font-size="8.6" font-weight="normal" font-style="normal" text-anchor="middle" font-family='"Liberation Serif", serif' fill="#000" class="v">18</text>
<text x="241.5" y="221.2" font-size="8.6" font-weight="normal" font-style="normal" text-anchor="middle" font-family='"Liberation Serif", serif' fill="#000" class="v">18</text>
<text x="125.5" y="232.6" font-size="8.6" font-weight="normal" font-style="normal" text-anchor="middle" font-family='"Liberation Serif", serif' fill="#000" class="v">4</text>
<text x="154.5" y="232.6" font-size="8.6" font-weight="normal" font-style="normal" text-anchor="middle" font-family='"Liberation Serif", serif' fill="#000" class="v">15</text>
<text x="184.0" y="232.6" font-size="8.6" font-weight="normal" font-style="normal" text-anchor="middle" font-family='"Liberation Serif", serif' fill="#000" class="v">11</text>
<text x="212.0" y="232.6" font-size="8.6" font-weight="normal" font-style="normal" text-anchor="middle" font-family='"Liberation Serif", serif' fill="#000" class="v">14</text>
<text x="241.5" y="232.6" font-size="8.6" font-weight="normal" font-style="normal" text-anchor="middle" font-family='"Liberation Serif", serif' fill="#000" class="v">17</text>
<text x="125.5" y="244.0" font-size="8.6" font-weight="normal" font-style="normal" text-anchor="middle" font-family='"Liberation Serif", serif' fill="#000" class="v">&gt;312</text>
<text x="154.5" y="244.0" font-size="8.6" font-weight="normal" font-style="normal" text-anchor="middle" font-family='"Liberation Serif", serif' fill="#000" class="v">129.47</text>
<text x="184.0" y="244.0" font-size="8.6" font-weight="normal" font-style="normal" text-anchor="middle" font-family='"Liberation Serif", serif' fill="#000" class="v">80.47</text>
<text x="212.0" y="244.0" font-size="8.6" font-weight="normal" font-style="normal" text-anchor="middle" font-family='"Liberation Serif", serif' fill="#000" class="v">35.5</text>
<text x="241.5" y="244.0" font-size="8.6" font-weight="normal" font-style="normal" text-anchor="middle" font-family='"Liberation Serif", serif' fill="#000" class="v">18.63</text>
<text x="273.0" y="221.6" font-size="8.3" font-weight="bold" font-style="normal" text-anchor="start" font-family='"Liberation Serif", serif' fill="#000" >Number of patients</text>
<text x="273.0" y="233.0" font-size="8.3" font-weight="bold" font-style="normal" text-anchor="start" font-family='"Liberation Serif", serif' fill="#000" >Number of treatment events</text>
<text x="273.0" y="244.0" font-size="8.3" font-weight="bold" font-style="normal" text-anchor="start" font-family='"Liberation Serif", serif' fill="#000" >Median TFS</text>
<text x="394.0" y="210.0" font-size="8.3" font-weight="bold" font-style="normal" text-anchor="middle" font-family='"Liberation Serif", serif' fill="#000" >0/4</text>
<text x="423.1" y="210.0" font-size="8.3" font-weight="bold" font-style="normal" text-anchor="middle" font-family='"Liberation Serif", serif' fill="#000" >1/4</text>
<text x="451.8" y="210.0" font-size="8.3" font-weight="bold" font-style="normal" text-anchor="middle" font-family='"Liberation Serif", serif' fill="#000" >2/4</text>
<text x="480.4" y="210.0" font-size="8.3" font-weight="bold" font-style="normal" text-anchor="middle" font-family='"Liberation Serif", serif' fill="#000" >3/4</text>
<text x="509.5" y="210.0" font-size="8.3" font-weight="bold" font-style="normal" text-anchor="middle" font-family='"Liberation Serif", serif' fill="#000" >4/4</text>
<text x="394.0" y="221.6" font-size="8.6" font-weight="normal" font-style="normal" text-anchor="middle" font-family='"Liberation Serif", serif' fill="#000" class="v">27</text>
<text x="423.1" y="221.6" font-size="8.6" font-weight="normal" font-style="normal" text-anchor="middle" font-family='"Liberation Serif", serif' fill="#000" class="v">22</text>
<text x="451.8" y="221.6" font-size="8.6" font-weight="normal" font-style="normal" text-anchor="middle" font-family='"Liberation Serif", serif' fill="#000" class="v">11</text>
<text x="480.4" y="221.6" font-size="8.6" font-weight="normal" font-style="normal" text-anchor="middle" font-family='"Liberation Serif", serif' fill="#000" class="v">8</text>
<text x="509.5" y="221.6" font-size="8.6" font-weight="normal" font-style="normal" text-anchor="middle" font-family='"Liberation Serif", serif' fill="#000" class="v">9</text>
<text x="394.0" y="233.0" font-size="8.6" font-weight="normal" font-style="normal" text-anchor="middle" font-family='"Liberation Serif", serif' fill="#000" class="v">4</text>
<text x="423.1" y="233.0" font-size="8.6" font-weight="normal" font-style="normal" text-anchor="middle" font-family='"Liberation Serif", serif' fill="#000" class="v">9</text>
<text x="451.8" y="233.0" font-size="8.6" font-weight="normal" font-style="normal" text-anchor="middle" font-family='"Liberation Serif", serif' fill="#000" class="v">6</text>
<text x="480.4" y="233.0" font-size="8.6" font-weight="normal" font-style="normal" text-anchor="middle" font-family='"Liberation Serif", serif' fill="#000" class="v">5</text>
<text x="509.5" y="233.0" font-size="8.6" font-weight="normal" font-style="normal" text-anchor="middle" font-family='"Liberation Serif", serif' fill="#000" class="v">8</text>
<text x="394.0" y="244.0" font-size="8.6" font-weight="normal" font-style="normal" text-anchor="middle" font-family='"Liberation Serif", serif' fill="#000" class="v">&gt;312</text>
<text x="423.1" y="244.0" font-size="8.6" font-weight="normal" font-style="normal" text-anchor="middle" font-family='"Liberation Serif", serif' fill="#000" class="v">129.47</text>
<text x="451.8" y="244.0" font-size="8.6" font-weight="normal" font-style="normal" text-anchor="middle" font-family='"Liberation Serif", serif' fill="#000" class="v">80.47</text>
<text x="480.4" y="244.0" font-size="8.6" font-weight="normal" font-style="normal" text-anchor="middle" font-family='"Liberation Serif", serif' fill="#000" class="v">62.63</text>
<text x="509.5" y="244.0" font-size="8.6" font-weight="normal" font-style="normal" text-anchor="middle" font-family='"Liberation Serif", serif' fill="#000" class="v">16.43</text>
<text x="39.2" y="467.3" font-size="8.3" font-weight="bold" font-style="normal" text-anchor="start" font-family='"Liberation Serif", serif' fill="#000" >Number of patients</text>
<text x="39.2" y="478.7" font-size="8.3" font-weight="bold" font-style="normal" text-anchor="start" font-family='"Liberation Serif", serif' fill="#000" >Number of death events</text>
<text x="39.2" y="490.0" font-size="8.3" font-weight="bold" font-style="normal" text-anchor="start" font-family='"Liberation Serif", serif' fill="#000" >Median OS</text>
<text x="160.6" y="455.8" font-size="8.3" font-weight="bold" font-style="normal" text-anchor="middle" font-family='"Liberation Serif", serif' fill="#000" >0-1/4</text>
<text x="190.4" y="455.8" font-size="8.3" font-weight="bold" font-style="normal" text-anchor="middle" font-family='"Liberation Serif", serif' fill="#000" >2-3/4</text>
<text x="218.7" y="455.8" font-size="8.3" font-weight="bold" font-style="normal" text-anchor="middle" font-family='"Liberation Serif", serif' fill="#000" >4/4</text>
<text x="160.6" y="467.3" font-size="8.6" font-weight="normal" font-style="normal" text-anchor="middle" font-family='"Liberation Serif", serif' fill="#000" class="v">58</text>
<text x="190.4" y="467.3" font-size="8.6" font-weight="normal" font-style="normal" text-anchor="middle" font-family='"Liberation Serif", serif' fill="#000" class="v">34</text>
<text x="218.7" y="467.3" font-size="8.6" font-weight="normal" font-style="normal" text-anchor="middle" font-family='"Liberation Serif", serif' fill="#000" class="v">18</text>
<text x="160.6" y="478.7" font-size="8.6" font-weight="normal" font-style="normal" text-anchor="middle" font-family='"Liberation Serif", serif' fill="#000" class="v">1</text>
<text x="190.4" y="478.7" font-size="8.6" font-weight="normal" font-style="normal" text-anchor="middle" font-family='"Liberation Serif", serif' fill="#000" class="v">10</text>
<text x="218.7" y="478.7" font-size="8.6" font-weight="normal" font-style="normal" text-anchor="middle" font-family='"Liberation Serif", serif' fill="#000" class="v">9</text>
<text x="160.6" y="490.0" font-size="8.6" font-weight="normal" font-style="normal" text-anchor="middle" font-family='"Liberation Serif", serif' fill="#000" class="v">&gt;312</text>
<text x="190.4" y="490.0" font-size="8.6" font-weight="normal" font-style="normal" text-anchor="middle" font-family='"Liberation Serif", serif' fill="#000" class="v">183</text>
<text x="218.7" y="490.0" font-size="8.6" font-weight="normal" font-style="normal" text-anchor="middle" font-family='"Liberation Serif", serif' fill="#000" class="v">106.2</text>
<text x="291.2" y="466.6" font-size="8.3" font-weight="bold" font-style="normal" text-anchor="start" font-family='"Liberation Serif", serif' fill="#000" >Number of patients</text>
<text x="291.2" y="478.1" font-size="8.3" font-weight="bold" font-style="normal" text-anchor="start" font-family='"Liberation Serif", serif' fill="#000" >Number of death events</text>
<text x="291.2" y="489.4" font-size="8.3" font-weight="bold" font-style="normal" text-anchor="start" font-family='"Liberation Serif", serif' fill="#000" >Median OS</text>
<text x="412.9" y="455.3" font-size="8.3" font-weight="bold" font-style="normal" text-anchor="middle" font-family='"Liberation Serif", serif' fill="#000" >0-1/4</text>
<text x="442.1" y="455.3" font-size="8.3" font-weight="bold" font-style="normal" text-anchor="middle" font-family='"Liberation Serif", serif' fill="#000" >2-3/4</text>
<text x="470.9" y="455.3" font-size="8.3" font-weight="bold" font-style="normal" text-anchor="middle" font-family='"Liberation Serif", serif' fill="#000" >4/4</text>
<text x="412.9" y="466.6" font-size="8.6" font-weight="normal" font-style="normal" text-anchor="middle" font-family='"Liberation Serif", serif' fill="#000" class="v">49</text>
<text x="442.1" y="466.6" font-size="8.6" font-weight="normal" font-style="normal" text-anchor="middle" font-family='"Liberation Serif", serif' fill="#000" class="v">19</text>
<text x="470.9" y="466.6" font-size="8.6" font-weight="normal" font-style="normal" text-anchor="middle" font-family='"Liberation Serif", serif' fill="#000" class="v">9</text>
<text x="412.9" y="478.1" font-size="8.6" font-weight="normal" font-style="normal" text-anchor="middle" font-family='"Liberation Serif", serif' fill="#000" class="v">1</text>
<text x="442.1" y="478.1" font-size="8.6" font-weight="normal" font-style="normal" text-anchor="middle" font-family='"Liberation Serif", serif' fill="#000" class="v">3</text>
<text x="470.9" y="478.1" font-size="8.6" font-weight="normal" font-style="normal" text-anchor="middle" font-family='"Liberation Serif", serif' fill="#000" class="v">3</text>
<text x="412.9" y="489.4" font-size="8.6" font-weight="normal" font-style="normal" text-anchor="middle" font-family='"Liberation Serif", serif' fill="#000" class="v">&gt;312</text>
<text x="442.1" y="489.4" font-size="8.6" font-weight="normal" font-style="normal" text-anchor="middle" font-family='"Liberation Serif", serif' fill="#000" class="v">&gt;312</text>
<text x="470.9" y="489.4" font-size="8.6" font-weight="normal" font-style="normal" text-anchor="middle" font-family='"Liberation Serif", serif' fill="#000" class="v">152.5</text>
</svg>
</body></html>
